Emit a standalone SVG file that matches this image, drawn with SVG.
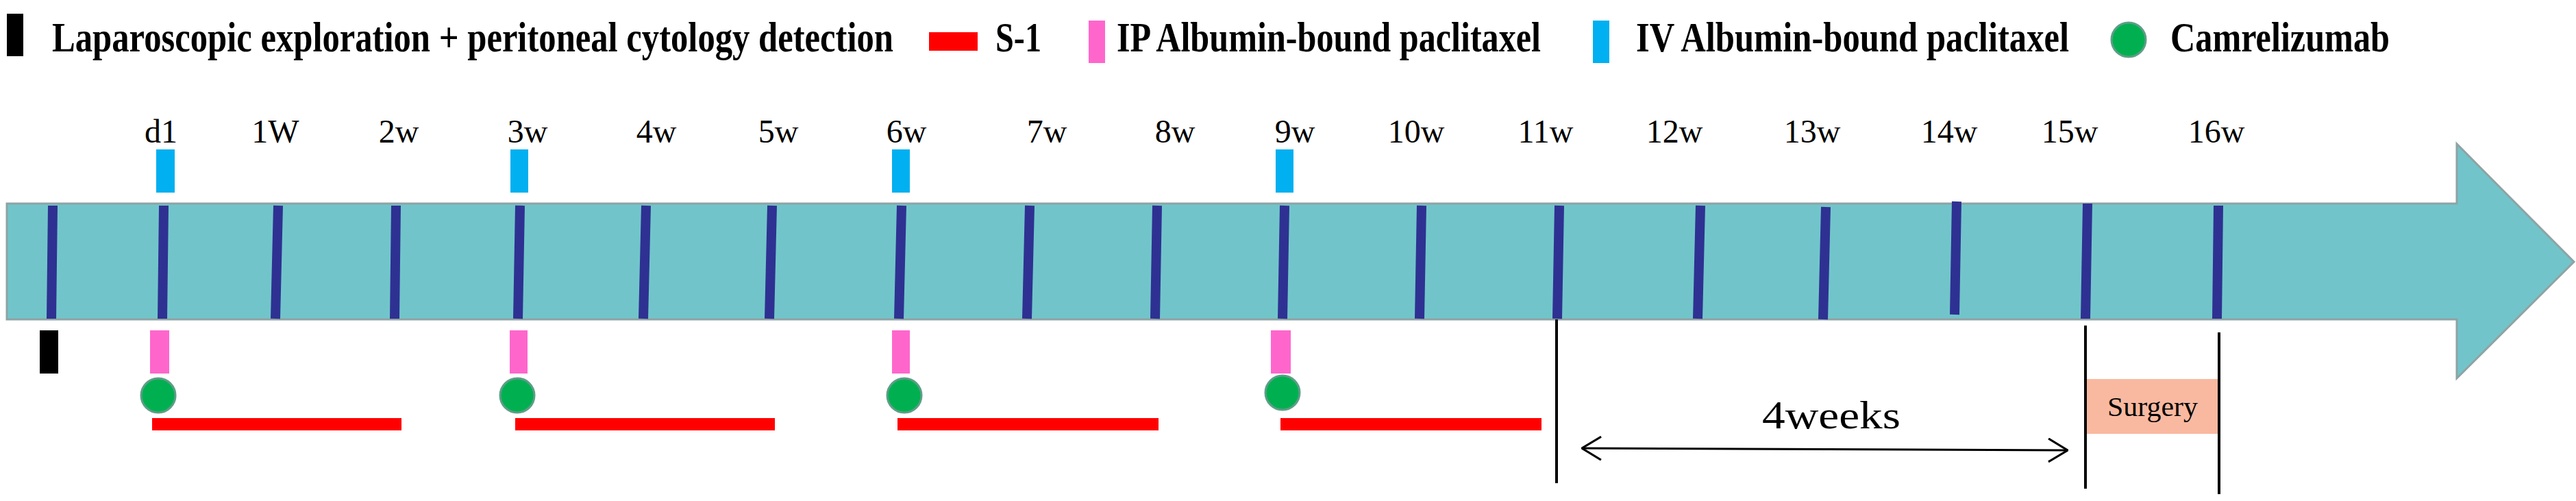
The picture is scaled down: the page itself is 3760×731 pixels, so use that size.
<svg xmlns="http://www.w3.org/2000/svg" width="3760" height="731" viewBox="0 0 3760 731">
<defs>
<style>
.lg{font-family:"Liberation Serif","Times New Roman",serif;font-weight:bold;font-size:51px;fill:#000}
.wk{font-family:"Liberation Serif","Times New Roman",serif;font-size:48px;fill:#000;text-anchor:middle}
.tick{stroke:#2E3192;stroke-width:14;fill:none}
.iv{fill:#00B0F0}
.ip{fill:#FF66CC}
.cam{fill:#00B050;stroke:#5E9E88;stroke-width:3}
.s1{fill:#FF0000}
.vl{stroke:#000;stroke-width:4;fill:none}
</style>
<marker id="ah" viewBox="0 0 30 36" refX="29" refY="18" markerWidth="30" markerHeight="36" markerUnits="userSpaceOnUse" orient="auto-start-reverse">
<path d="M1,1 L29,18 L1,35" fill="none" stroke="#000" stroke-width="3"/>
</marker>
</defs>
<rect width="3760" height="731" fill="#fff"/>

<g id="legend">
<rect x="10" y="20" width="24" height="62" fill="#000"/>
<rect class="s1" x="1356" y="47" width="71" height="27"/>
<rect class="ip" x="1589" y="30" width="24" height="62"/>
<rect class="iv" x="2325" y="30" width="24" height="62"/>
<circle class="cam" cx="3107" cy="58" r="25"/>
<g transform="scale(1,1.2)">
<text class="lg" x="76" y="62.5" textLength="1228" lengthAdjust="spacingAndGlyphs">Laparoscopic exploration + peritoneal cytology detection</text>
<text class="lg" x="1453" y="62.5" textLength="67" lengthAdjust="spacingAndGlyphs">S-1</text>
<text class="lg" x="1630" y="62.5" textLength="619" lengthAdjust="spacingAndGlyphs">IP Albumin-bound paclitaxel</text>
<text class="lg" x="2388" y="62.5" textLength="632" lengthAdjust="spacingAndGlyphs">IV Albumin-bound paclitaxel</text>
<text class="lg" x="3168" y="62.5" textLength="320" lengthAdjust="spacingAndGlyphs">Camrelizumab</text>
</g>
</g>

<g id="timeline">
<polygon points="10,297 3586,297 3586,210 3757,382 3586,552 3586,466 10,466" fill="#71C5CA" stroke="#8FA3A4" stroke-width="3"/>
<line class="tick" x1="77" y1="300" x2="75" y2="465"/>
<line class="tick" x1="239" y1="300" x2="237" y2="465"/>
<line class="tick" x1="406" y1="300" x2="402" y2="465"/>
<line class="tick" x1="578" y1="300" x2="576" y2="465"/>
<line class="tick" x1="759" y1="300" x2="756" y2="465"/>
<line class="tick" x1="943" y1="300" x2="939" y2="465"/>
<line class="tick" x1="1127" y1="300" x2="1123" y2="465"/>
<line class="tick" x1="1316" y1="300" x2="1312" y2="465"/>
<line class="tick" x1="1503" y1="300" x2="1499" y2="465"/>
<line class="tick" x1="1689" y1="300" x2="1686" y2="465"/>
<line class="tick" x1="1875" y1="300" x2="1872" y2="465"/>
<line class="tick" x1="2075" y1="300" x2="2072" y2="465"/>
<line class="tick" x1="2276" y1="300" x2="2273" y2="465"/>
<line class="tick" x1="2482" y1="300" x2="2478" y2="465"/>
<line class="tick" x1="2665" y1="302" x2="2661" y2="466"/>
<line class="tick" x1="2856" y1="294" x2="2853" y2="459"/>
<line class="tick" x1="3047" y1="297" x2="3044" y2="465"/>
<line class="tick" x1="3238" y1="300" x2="3236" y2="465"/>
</g>

<g id="week-labels">
<text class="wk" x="235" y="208">d1</text>
<text class="wk" x="402" y="208">1W</text>
<text class="wk" x="582" y="208">2w</text>
<text class="wk" x="770" y="208">3w</text>
<text class="wk" x="958" y="208">4w</text>
<text class="wk" x="1136" y="208">5w</text>
<text class="wk" x="1323" y="208">6w</text>
<text class="wk" x="1528" y="208">7w</text>
<text class="wk" x="1715" y="208">8w</text>
<text class="wk" x="1890" y="208">9w</text>
<text class="wk" x="2067" y="208">10w</text>
<text class="wk" x="2256" y="208">11w</text>
<text class="wk" x="2444" y="208">12w</text>
<text class="wk" x="2645" y="208">13w</text>
<text class="wk" x="2845" y="208">14w</text>
<text class="wk" x="3021" y="208">15w</text>
<text class="wk" x="3235" y="208">16w</text>
</g>

<g id="iv-doses">
<rect class="iv" x="228" y="218" width="27" height="63"/>
<rect class="iv" x="745" y="218" width="26" height="63"/>
<rect class="iv" x="1302" y="218" width="26" height="63"/>
<rect class="iv" x="1862" y="218" width="26" height="63"/>
</g>

<g id="laparoscopy">
<rect x="58" y="482" width="27" height="63" fill="#000"/>
</g>

<g id="ip-doses">
<rect class="ip" x="219" y="482" width="28" height="63"/>
<rect class="ip" x="744" y="482" width="26" height="63"/>
<rect class="ip" x="1302" y="482" width="26" height="63"/>
<rect class="ip" x="1855" y="482" width="29" height="63"/>
</g>

<g id="camrelizumab">
<circle class="cam" cx="231" cy="577" r="25"/>
<circle class="cam" cx="755" cy="577" r="25"/>
<circle class="cam" cx="1320" cy="577" r="25"/>
<circle class="cam" cx="1872" cy="573" r="25"/>
</g>

<g id="s1-courses">
<rect class="s1" x="222" y="610" width="364" height="18"/>
<rect class="s1" x="752" y="610" width="379" height="18"/>
<rect class="s1" x="1310" y="610" width="381" height="18"/>
<rect class="s1" x="1869" y="610" width="381" height="18"/>
</g>

<g id="surgery">
<rect x="3044" y="553" width="196" height="80" fill="#F9B9A0"/>
<text x="3142" y="607" font-family="Liberation Serif, Times New Roman, serif" font-size="40" text-anchor="middle" textLength="132" lengthAdjust="spacingAndGlyphs">Surgery</text>
</g>

<g id="connectors">
<line class="vl" x1="2272" y1="466" x2="2272" y2="705"/>
<line class="vl" x1="3044" y1="475" x2="3044" y2="713"/>
<line class="vl" x1="3239" y1="485" x2="3239" y2="721"/>
<line x1="2309" y1="654" x2="3018" y2="657" stroke="#000" stroke-width="3" marker-start="url(#ah)" marker-end="url(#ah)"/>
<text x="2572" y="625" font-family="Liberation Serif, Times New Roman, serif" font-size="57" textLength="202" lengthAdjust="spacingAndGlyphs">4weeks</text>
</g>
</svg>
